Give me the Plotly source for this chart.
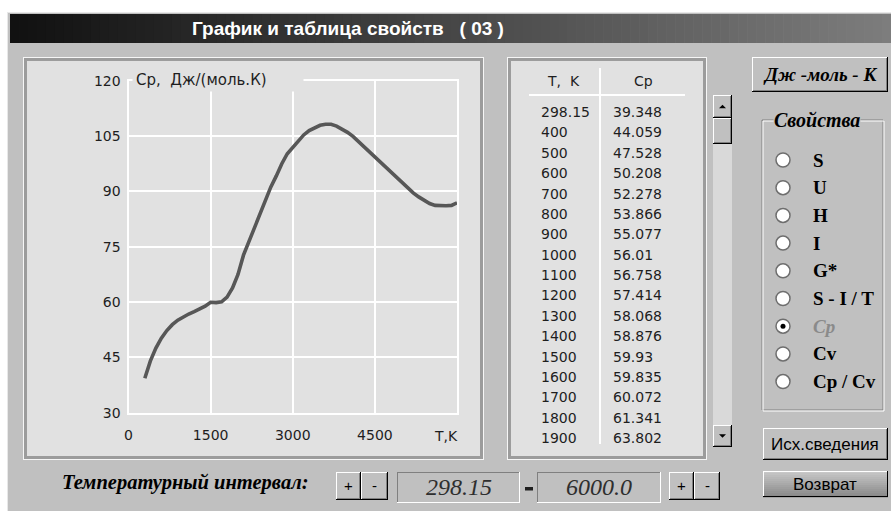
import plotly.graph_objects as go

# ---------------- data ----------------
T_table = [298.15, 400, 500, 600, 700, 800, 900, 1000, 1100, 1200,
           1300, 1400, 1500, 1600, 1700, 1800, 1900]
Cp_table = [39.348, 44.059, 47.528, 50.208, 52.278, 53.866, 55.077, 56.01,
            56.758, 57.414, 58.068, 58.876, 59.93, 59.835, 60.072, 61.341, 63.802]

# values above 1900 K
T_hi = [2000, 2100, 2200, 2300, 2400, 2500, 2600, 2700, 2800, 2900,
        3000, 3100, 3200, 3300, 3400, 3500, 3600, 3700, 3800, 3900,
        4000, 4100, 4200, 4300, 4400, 4500, 4600, 4700, 4800, 4900,
        5000, 5100, 5200, 5300, 5400, 5500, 5600, 5700, 5800, 5900, 6000]
Cp_hi = [67.5, 72.7, 76.5, 80.1, 84.2, 88.0, 91.2, 94.2, 97.5, 100.2,
         102.0, 103.6, 105.3, 106.5, 107.3, 107.9, 108.2, 108.2, 107.7, 106.9,
         106.0, 104.9, 103.5, 102.2, 100.8, 99.4, 98.0, 96.6, 95.0, 93.5,
         92.1, 90.8, 89.6, 88.5, 87.6, 86.7, 86.2, 86.1, 86.1, 86.2, 86.9]

x_tickvals = [0, 1500, 3000, 4500, 6000]
x_ticktext = ["0", "1500", "3000", "4500", ""]
y_tickvals = [30, 45, 60, 75, 90, 105, 120]

properties = ["S", "U", "H", "I", "G*", "S - I / T", "Cp", "Cv", "Cp / Cv"]
selected_property = "Cp"
interval = ["298.15", "6000.0"]

title_text = "График и таблица свойств\u00a0\u00a0\u00a0(\u00a003\u00a0)"
y_label = "Cp,\u00a0\u00a0Дж/(моль.К)"
x_label = "T,K"
table_head = ["T,\u00a0\u00a0K", "Cp"]
units_button = "Дж -моль - К"
group_title = "Свойства"
interval_label = "Температурный интервал:"
btn_info = "Исх.сведения"
btn_back = "Возврат"

# ---------------- helpers ----------------
W, H = 891, 511
BG = "#c0c0c0"
PANEL = "#e1e1e1"


def X(p):
    return p / W


def Y(p):
    return 1 - p / H


shapes = []
annotations = []


def rect(x0, y0, x1, y1, fill, line=None, lw=0):
    shapes.append(dict(type="rect", xref="paper", yref="paper", layer="below",
                       x0=X(x0), x1=X(x1), y0=Y(y1), y1=Y(y0), fillcolor=fill,
                       line=dict(width=lw, color=line or fill)))


def hline(x0, x1, y, color, w=1):
    shapes.append(dict(type="line", xref="paper", yref="paper", layer="below",
                       x0=X(x0), x1=X(x1), y0=Y(y), y1=Y(y), line=dict(color=color, width=w)))


def vline(x, y0, y1, color, w=1):
    shapes.append(dict(type="line", xref="paper", yref="paper", layer="below",
                       x0=X(x), x1=X(x), y0=Y(y0), y1=Y(y1), line=dict(color=color, width=w)))


def raised(x0, y0, x1, y1, fill=BG):
    rect(x0, y0, x1, y1, fill)
    hline(x0, x1, y0 + 0.5, "#ffffff")
    vline(x0 + 0.5, y0, y1, "#ffffff")
    hline(x0, x1, y1 - 0.5, "#000000")
    vline(x1 - 0.5, y0, y1, "#000000")
    hline(x0 + 1, x1 - 1, y1 - 1.5, "#808080")
    vline(x1 - 1.5, y0 + 1, y1 - 1, "#808080")


def sunken(x0, y0, x1, y1, fill=BG):
    rect(x0, y0, x1, y1, fill)
    hline(x0, x1, y0 + 0.5, "#808080")
    vline(x0 + 0.5, y0, y1, "#808080")
    hline(x0, x1, y1 - 0.5, "#ffffff")
    vline(x1 - 0.5, y0, y1, "#ffffff")


def panel(x0, y0, x1, y1):
    rect(x0, y0, x1, y1, "#f6f6f6")
    rect(x0 + 1, y0 + 1, x1 - 1, y1 - 1, "#9c9c9c")
    rect(x0 + 4, y0 + 4, x1 - 4, y1 - 4, PANEL)


def txt(x, y, s, size=14, family="DejaVu Sans", color="#1e1e1e", weight="normal",
        style="normal", xanchor="center", bg=None, pad=1, width=None, height=None):
    a = dict(x=X(x), y=Y(y), xref="paper", yref="paper", text=s, showarrow=False,
             xanchor=xanchor, yanchor="middle",
             font=dict(size=size, family=family, color=color, weight=weight, style=style),
             borderpad=pad)
    if bg:
        a["bgcolor"] = bg
    if width:
        a["width"] = width
        a["align"] = "left"
    if height:
        a["height"] = height
    annotations.append(a)


def tri(cx, cy, up=True, s=3.5):
    if up:
        pts = [(cx - s, cy + s / 2), (cx + s, cy + s / 2), (cx, cy - s / 2)]
    else:
        pts = [(cx - s, cy - s / 2), (cx + s, cy - s / 2), (cx, cy + s / 2)]
    path = "M " + " L ".join(f"{X(a)} {Y(b)}" for a, b in pts) + " Z"
    shapes.append(dict(type="path", xref="paper", yref="paper", layer="below", path=path,
                       fillcolor="#000000", line=dict(width=0)))


SERIF = "Liberation Serif, Times New Roman, serif"
SANS = "Liberation Sans, Arial, sans-serif"

# ---------------- window ----------------
rect(7, 12, 891, 511, BG)
hline(7, 891, 12.5, "#e8e8e8")
vline(7.5, 12, 511, "#e8e8e8")

# title bar gradient
n = 98
x_start, x_end = 10, 891
for i in range(n):
    a = x_start + (x_end - x_start) * i / n
    b = x_start + (x_end - x_start) * (i + 1) / n + 0.6
    t = i / (n - 1)
    c = int(17 + t * (125 - 17))
    rect(a, 14, b, 43, f"rgb({c},{c},{c})")
txt(348, 28.5, title_text, size=19, family=SANS, color="#ffffff", weight="bold")

# ---------------- chart panel ----------------
panel(23, 57, 484, 460)

# ---------------- table panel ----------------
panel(507, 57, 707, 460)
hline(529, 685, 95, "#ffffff", 2)
vline(600, 68, 444, "#ffffff", 2)
txt(563, 81, table_head[0], size=14)
txt(643, 81, table_head[1], size=14)
for i, (tv, cv) in enumerate(zip(T_table, Cp_table)):
    yy = 112 + i * 20.38
    txt(540, yy, f"{tv:g}", size=14, xanchor="left", pad=0)
    txt(612, yy, f"{cv:g}", size=14, xanchor="left", pad=0)

# scrollbar
rect(713, 95, 732, 447, "#d9d9d9")
raised(713, 95, 732, 118)
tri(722.5, 106.5, up=True)
raised(713, 118, 732, 144)
raised(713, 425, 732, 447)
tri(722.5, 436, up=False)

# ---------------- right side ----------------
raised(752, 57, 888, 92)
txt(820, 74, units_button, size=19, family=SERIF, color="#000000", weight="bold", style="italic")

# group box
for off, col in ((0, "#808080"), (1, "#ffffff")):
    hline(762 + off, 883 + off, 120 + off, col)
    hline(762 + off, 883 + off, 410 + off, col)
    vline(762 + off, 120 + off, 410 + off, col)
    vline(883 + off, 120 + off, 410 + off, col)
txt(817, 120, group_title, size=20, family=SERIF, color="#000000", weight="bold",
    style="italic", bg=BG, pad=0)

row_y0, row_dy = 160, 27.7
for i, p in enumerate(properties):
    yy = row_y0 + i * row_dy
    shapes.append(dict(type="circle", xref="paper", yref="paper", layer="below",
                       x0=X(776), x1=X(790), y0=Y(yy + 7), y1=Y(yy - 7),
                       fillcolor="#ffffff", line=dict(color="#6e6e6e", width=1.5)))
    if p == selected_property:
        shapes.append(dict(type="circle", xref="paper", yref="paper", layer="below",
                           x0=X(780.5), x1=X(785.5), y0=Y(yy + 2.5), y1=Y(yy - 2.5),
                           fillcolor="#000000", line=dict(width=0)))
        txt(811, yy, p, size=19, family=SERIF, color="#8a8a8a", weight="bold",
            style="italic", xanchor="left")
    else:
        txt(811, yy, p, size=19, family=SERIF, color="#000000", weight="bold", xanchor="left")

raised(763, 428, 888, 460)
txt(825, 444, btn_info, size=17, family=SANS, color="#000000")

# Возврат button with vertical gradient
m = 13
for i in range(m):
    a = 471 + 26 * i / m
    b = 471 + 26 * (i + 1) / m + 0.6
    c = int(200 - (i / (m - 1)) * 62)
    rect(763, a, 888, b, f"rgb({c},{c},{c})")
hline(763, 888, 471.5, "#ffffff")
vline(763.5, 471, 497, "#ffffff")
hline(763, 888, 496.5, "#000000")
vline(887.5, 471, 497, "#000000")
txt(825, 484, btn_back, size=17, family=SANS, color="#000000")

# ---------------- bottom interval controls ----------------
txt(60, 482, interval_label, size=20.5, family=SERIF, color="#000000", weight="bold",
    style="italic", xanchor="left")
for (x0, x1, s) in ((336, 361, "+"), (361, 388, "-"), (669, 694, "+"), (694, 720, "-")):
    raised(x0, 472, x1, 500)
    txt((x0 + x1) / 2, 485, s, size=15, family=SANS, color="#000000")
sunken(397, 472, 520, 503)
sunken(537, 472, 661, 503)
txt(459, 487, interval[0], size=24, family=SERIF, color="#2e2e2e", style="italic")
txt(599, 487, interval[1], size=24, family=SERIF, color="#2e2e2e", style="italic")
rect(525, 487, 533, 490.5, "#202020")

# axis label annotations inside the chart
txt(132, 80.5, y_label, size=15, xanchor="left", bg=PANEL, pad=3, width=164, height=16)
txt(446, 436, x_label, size=14)

# ---------------- figure ----------------
T_all = T_table + T_hi
Cp_all = Cp_table + Cp_hi

fig = go.Figure()
fig.add_trace(go.Scatter(x=T_all, y=Cp_all, mode="lines",
                         line=dict(color="#575757", width=3.6), hoverinfo="skip"))

axis_font = dict(family="DejaVu Sans", size=14, color="#1e1e1e")
fig.update_layout(
    width=W, height=H, autosize=False,
    margin=dict(l=0, r=0, t=0, b=0, autoexpand=False),
    paper_bgcolor="#ffffff", plot_bgcolor="rgba(0,0,0,0)",
    showlegend=False,
    xaxis=dict(domain=[X(128.5), X(457)], range=[0, 6000], tickvals=x_tickvals,
               ticktext=x_ticktext, showgrid=True, gridcolor="#ffffff", gridwidth=2,
               zeroline=False, showline=True, linecolor="#ffffff", linewidth=2, mirror=True,
               ticks="", tickfont=axis_font, ticklabelstandoff=8, fixedrange=True,
               automargin=False),
    yaxis=dict(domain=[Y(412.7), Y(80.7)], range=[30, 120], tickvals=y_tickvals,
               showgrid=True, gridcolor="#ffffff", gridwidth=2,
               zeroline=False, showline=True, linecolor="#ffffff", linewidth=2, mirror=True,
               ticks="", tickfont=axis_font, ticklabelstandoff=3, fixedrange=True,
               automargin=False),
    shapes=shapes,
    annotations=annotations,
)

fig.write_html("out.html", config={"displayModeBar": False},
               post_script="document.body.style.margin='0';document.body.style.padding='0';document.body.style.overflow='hidden';")
